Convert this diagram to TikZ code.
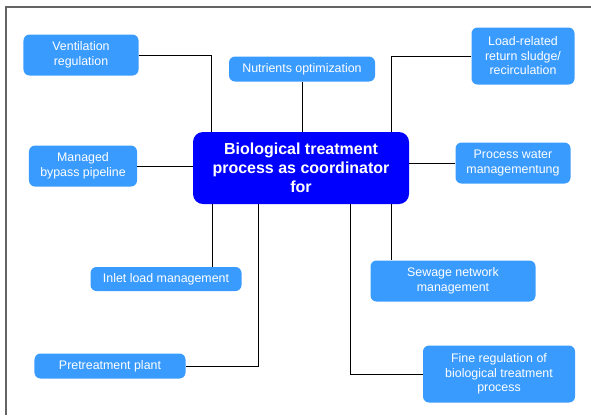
\documentclass[tikz,border=0pt]{standalone}
\usepackage{fontspec}
\setmainfont{Liberation Sans}
\usetikzlibrary{positioning}
\definecolor{taskblue}{RGB}{58,155,255}
\definecolor{framegray}{RGB}{100,100,100}

\begin{document}
\begin{tikzpicture}
    [
      x=1bp,
      y=-1bp,
      task/.style=
        {
          rectangle,
          rounded corners=6bp,
          fill=taskblue,
          text=white,
          align=center,
          inner sep=0pt,
          font=\fontsize{12.4bp}{14.5bp}\selectfont,
        },
      hub/.style=
        {
          rectangle,
          rounded corners=10bp,
          fill=blue,
          text=white,
          align=center,
          inner sep=0pt,
          font=\bfseries\fontsize{16bp}{19bp}\selectfont,
        },
      link/.style=
        {
          draw=black,
          line width=0.8bp,
        },
    ]
    \useasboundingbox (0,0) rectangle (591,415);
    \draw[framegray, line width=1.5bp] (6,415) -- (6,7) -- (591,7);

    \node[hub, minimum width=216bp, minimum height=72bp]  (bio)    at (301,168) {Biological treatment\\process as coordinator\\for};
    \node[task, minimum width=115bp, minimum height=41bp] (vent)   at (81,55)   {Ventilation\\regulation};
    \node[task, minimum width=146bp, minimum height=25bp] (nutri)  at (302,69)  {Nutrients optimization};
    \node[task, minimum width=103bp, minimum height=57bp] (sludge) at (523,56)  {Load-related\\return sludge/\\recirculation};
    \node[task, minimum width=108bp, minimum height=41bp] (bypass) at (83,166)  {Managed\\bypass pipeline};
    \node[task, minimum width=115bp, minimum height=41bp] (water)  at (513,163) {Process water\\managementung};
    \node[task, minimum width=151bp, minimum height=24bp] (inlet)  at (166,279) {Inlet load management};
    \node[task, minimum width=165bp, minimum height=41bp] (sewage) at (453,281) {Sewage network\\management};
    \node[task, minimum width=151bp, minimum height=25bp] (pre)    at (110,366) {Pretreatment plant};
    \node[task, minimum width=152bp, minimum height=57bp] (fine)   at (499,374) {Fine regulation of\\biological treatment\\process};

    \draw[link] (vent.east) -| ([xshift=19bp]bio.north west);
    \draw[link] (nutri.south) -- (nutri.south |- bio.north);
    \draw[link] (sludge.west) -| ([xshift=-18bp]bio.north east);
    \draw[link] (bypass.east) -- (bypass.east -| bio.west);
    \draw[link] (water.west) -- (water.west -| bio.east);
    \draw[link] ([xshift=20bp]bio.south west) -- ([xshift=20bp]bio.south west |- inlet.north);
    \draw[link] ([xshift=-18bp]bio.south east) -- ([xshift=-18bp]bio.south east |- sewage.north);
    \draw[link] ([xshift=66bp]bio.south west) |- (pre.east);
    \draw[link] ([xshift=-59bp]bio.south east) |- (fine.west);
\end{tikzpicture}
\end{document}
